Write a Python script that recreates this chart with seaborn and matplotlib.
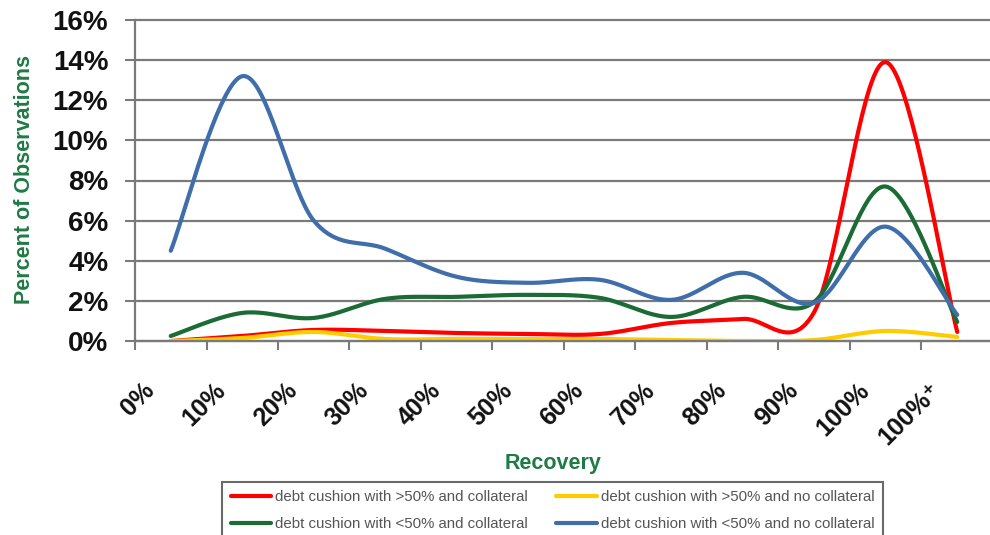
import numpy as np
import pandas as pd
import matplotlib
matplotlib.use("Agg")
import matplotlib.pyplot as plt
import matplotlib.transforms as mtransforms
from matplotlib.lines import Line2D
import seaborn as sns

# ---------------- data (percent of observations) ----------------
categories = ["0%", "10%", "20%", "30%", "40%", "50%", "60%", "70%",
              "80%", "90%", "100%", "100%\u207a"]
red_vals = [0.0, 0.25, 0.55, 0.5, 0.4, 0.35, 0.35, 0.9, 1.1, 1.45, 13.9, 0.45]
yellow_vals = [0.0, 0.15, 0.45, 0.1, 0.1, 0.1, 0.1, 0.05, 0.0, 0.05, 0.5, 0.2]
green_vals = [0.25, 1.4, 1.15, 2.1, 2.2, 2.3, 2.15, 1.2, 2.2, 1.95, 7.7, 0.95]
blue_vals = [4.5, 13.2, 6.0, 4.6, 3.2, 2.9, 3.05, 2.05, 3.4, 1.9, 5.7, 1.3]
series_names = ["debt cushion with >50% and collateral",
                "debt cushion with >50% and no collateral",
                "debt cushion with <50% and collateral",
                "debt cushion with <50% and no collateral"]
y_ticks = [0, 2, 4, 6, 8, 10, 12, 14, 16]

colors = ["#ff0000", "#ffcc00", "#1b6b35", "#3f6eaa"]
all_vals = [red_vals, yellow_vals, green_vals, blue_vals]


def smooth(xs, ys, n=40):
    """Excel-like smoothed line (Catmull-Rom / cubic Bezier through points)."""
    xs = np.asarray(xs, float)
    ys = np.asarray(ys, float)
    px = np.concatenate([[xs[0]], xs, [xs[-1]]])
    py = np.concatenate([[ys[0]], ys, [ys[-1]]])
    out_x, out_y = [], []
    t = np.linspace(0, 1, n, endpoint=False)
    for i in range(1, len(xs)):
        p0x, p0y = px[i], py[i]
        p3x, p3y = px[i + 1], py[i + 1]
        c1x = p0x + (px[i + 1] - px[i - 1]) / 6
        c1y = p0y + (py[i + 1] - py[i - 1]) / 6
        c2x = p3x - (px[i + 2] - px[i]) / 6
        c2y = p3y - (py[i + 2] - py[i]) / 6
        b0 = (1 - t) ** 3
        b1 = 3 * (1 - t) ** 2 * t
        b2 = 3 * (1 - t) * t ** 2
        b3 = t ** 3
        out_x.append(b0 * p0x + b1 * c1x + b2 * c2x + b3 * p3x)
        out_y.append(b0 * p0y + b1 * c1y + b2 * c2y + b3 * p3y)
    out_x.append([xs[-1]])
    out_y.append([ys[-1]])
    return np.concatenate(out_x), np.concatenate(out_y)


sns.set_theme(style="white")
plt.rcParams["font.family"] = ["Liberation Sans", "DejaVu Sans"]

fig = plt.figure(figsize=(9.9, 5.35), dpi=100)
ax = fig.add_axes([135 / 990, (535 - 341) / 535, 858 / 990, 321 / 535])

xpos = np.arange(len(categories)) + 0.5
frames = []
for name, vals in zip(series_names, all_vals):
    sx, sy = smooth(xpos, vals)
    frames.append(pd.DataFrame({"x": sx, "y": sy, "series": name}))
df = pd.concat(frames, ignore_index=True)

sns.lineplot(data=df, x="x", y="y", hue="series", hue_order=series_names,
             palette=colors, linewidth=3.0, sort=False, estimator=None,
             legend=False, ax=ax)

grid_col = "#7a7a7a"
ax.set_xlim(0, len(categories))
ax.set_ylim(0, 16)
ax.set_yticks(y_ticks)
ax.set_yticklabels([f"{v}%" for v in y_ticks], fontsize=20, fontweight="bold",
                   color="#111111")
ax.set_xticks(np.arange(len(categories) + 1))
ax.set_xticklabels([])
ax.tick_params(axis="y", length=7.2, width=1.5, color=grid_col, pad=12,
               left=True, direction="out")
ax.tick_params(axis="x", length=6.5, width=1.5, color=grid_col, bottom=True,
               direction="out")
ax.grid(axis="y", color=grid_col, linewidth=1.6)
ax.grid(axis="x", visible=False)
for gl in ax.get_ygridlines():
    gl.set_clip_on(False)
for s in ["top", "right"]:
    ax.spines[s].set_visible(False)
for s in ["left", "bottom"]:
    ax.spines[s].set_color(grid_col)
    ax.spines[s].set_linewidth(1.6)
ax.set_xlabel("")
ax.set_ylabel("")

# rotated category labels
lab_tr = mtransforms.offset_copy(ax.get_xaxis_transform(), fig=fig,
                                 x=-20, y=-46, units="dots")
for xp, lab in zip(xpos, categories):
    ax.text(xp, 0, lab, transform=lab_tr, rotation=45, rotation_mode="anchor",
            ha="right", va="center", fontsize=18, fontweight="bold",
            color="#111111")

green_txt = "#1f7a45"
fig.text(25 / 990, 1 - 180 / 535, "Percent of Observations", rotation=90,
         ha="center", va="center", fontsize=15.5, fontweight="bold",
         color=green_txt)
fig.text(553 / 990, 1 - 463 / 535, "Recovery", ha="center", va="center",
         fontsize=15.5, fontweight="bold", color=green_txt)

handles = [Line2D([0], [0], color=c, lw=3.0) for c in colors]
order = [0, 2, 1, 3]
leg = fig.legend([handles[i] for i in order], [series_names[i] for i in order],
                 loc="upper center", bbox_to_anchor=(552.5 / 990, 1 - 482 / 535),
                 ncol=2, frameon=True, fancybox=False, edgecolor="#444444",
                 prop={"family": "Liberation Sans", "size": 10.8},
                 handlelength=2.7, handletextpad=0.27, columnspacing=1.9,
                 borderpad=0.55, labelspacing=0.87, borderaxespad=0)
leg.get_frame().set_linewidth(1.5)
for t in leg.get_texts():
    t.set_color("#555555")

fig.savefig("out.png", dpi=100, facecolor="white")
